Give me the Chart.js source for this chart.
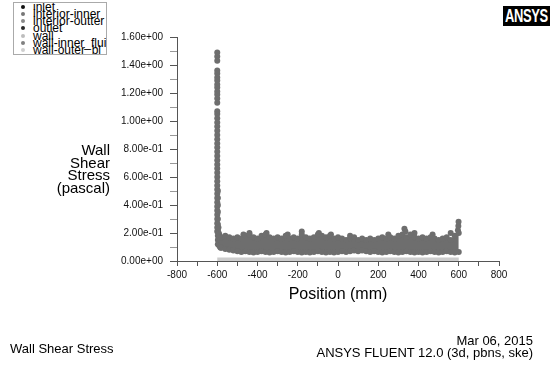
<!DOCTYPE html>
<html>
<head>
<meta charset="utf-8">
<script src="https://cdn.jsdelivr.net/npm/chart.js@4/dist/chart.umd.min.js"></script>
<style>
  html, body { margin: 0; padding: 0; background: #fff; }
  #wrap { position: relative; width: 559px; height: 369px; font-family: "Liberation Sans", Arial, sans-serif; color: #000; }
  #chart { position: absolute; left: 0; top: 0; }
  .txt { position: absolute; white-space: nowrap; }
  #legend { position: absolute; left: 13px; top: 2px; width: 94px; height: 53px; box-sizing: border-box; border: 1px solid #aaa; overflow: hidden; background: #fff; }
  #legend .row { position: absolute; left: 19px; font-size: 12px; line-height: 10px; white-space: nowrap; color: #000; }
  #legend .dot { position: absolute; left: 7px; width: 4px; height: 4px; border-radius: 50%; }
  #logo { position: absolute; left: 503px; top: 6px; width: 47px; height: 20px; background: #000; overflow: hidden; }
  #logo span { position: absolute; left: 2px; top: 0; color: #fff; font-weight: bold; font-size: 18px; line-height: 20px; letter-spacing: -0.5px; transform: scaleX(0.72); transform-origin: 0 0; }
</style>
</head>
<body>
<div id="wrap">
  <canvas id="chart" width="559" height="369"></canvas>
  <div id="legend"></div>
  <div id="logo"><span>ANSYS</span></div>
  <div class="txt" style="left:30px; top:144px; width:80px; text-align:right; font-size:15px; line-height:12.5px;">Wall<br>Shear<br>Stress<br>(pascal)</div>
  <div class="txt" style="left:238px; top:285px; width:200px; text-align:center; font-size:16px; line-height:18px;">Position (mm)</div>
  <div class="txt" style="left:10px; top:342px; font-size:13px; line-height:13px;">Wall Shear Stress</div>
  <div class="txt" style="right:26px; top:335px; text-align:right; font-size:13px; line-height:12px;">Mar 06, 2015<br>ANSYS FLUENT 12.0 (3d, pbns, ske)</div>
</div>
<script>
// legend entries as shown in the Fluent plot
const zoneNames = ['inlet', 'interior-inner', 'interior-outter', 'outlet', 'wall', 'wall-inner_flui', 'wall-outer_bl'];
const zoneColors = ['#111111', '#777777', '#8a8a8a', '#2a2a2a', '#bdbdbd', '#808080', '#cfcfcf'];

// x axis (mm) and y axis (Pa) ranges
const xMin = -800, xMax = 800, xStep = 100;
const yMin = 0, yMax = 1.6, yStep = 0.1;

// wall-outer zone: flat line at zero
const wallX = [-600, 600];
const wallY = [0.01, 0.01];

// wall-inner zone: spike at the inlet end
const spikeX = [-600, -600, -600, -600, -600, -600, -600, -600, -600, -600, -600, -600, -600,
  -600, -600, -600, -600, -600, -600, -600, -600, -600, -600, -600, -600, -600, -600, -600,
  -600, -600, -600, -600, -600, -600, -600, -600, -600, -600, -600, -600, -600, -600, -600,
  -597, -597, -597, -597, -597, -597, -597, -597, -597, -597,
  -594, -593, -592, -591, -590, -588, -586, -585, -583];
const spikeY = [1.49, 1.46, 1.43, 1.36, 1.34, 1.31, 1.29, 1.26, 1.24, 1.21, 1.19, 1.16, 1.13,
  1.07, 1.05, 1.02, 0.99, 0.96, 0.93, 0.90, 0.87, 0.84, 0.81, 0.78, 0.75, 0.72, 0.69, 0.66,
  0.63, 0.60, 0.57, 0.54, 0.51, 0.48, 0.45, 0.42, 0.39, 0.36, 0.33, 0.30, 0.27, 0.24, 0.21,
  0.50, 0.45, 0.40, 0.35, 0.30, 0.26, 0.22, 0.18, 0.15, 0.12,
  0.24, 0.20, 0.16, 0.13, 0.11, 0.17, 0.10, 0.15, 0.095];

// wall-inner zone: the dense band along the rest of the wall (upper and lower edge)
const bandX = [-590, -580, -560, -540, -520, -500, -480, -460, -440, -420, -400, -380, -360, -340,
  -320, -300, -280, -260, -240, -220, -200, -180, -160, -140, -120, -100, -80, -60, -40, -20,
  0, 20, 40, 60, 80, 100, 120, 140, 160, 180, 200, 220, 240, 260, 280, 300, 320, 340, 360,
  380, 400, 420, 440, 460, 480, 500, 520, 540, 560, 580, 600];
const bandTop = [0.19, 0.17, 0.18, 0.17, 0.16, 0.17, 0.16, 0.18, 0.19, 0.17, 0.16, 0.18, 0.19, 0.17,
  0.16, 0.17, 0.16, 0.18, 0.16, 0.17, 0.16, 0.19, 0.17, 0.16, 0.17, 0.19, 0.18, 0.17, 0.18, 0.16,
  0.17, 0.16, 0.15, 0.16, 0.17, 0.15, 0.16, 0.15, 0.16, 0.15, 0.16, 0.17, 0.16, 0.17, 0.16, 0.18,
  0.19, 0.17, 0.19, 0.17, 0.16, 0.17, 0.16, 0.17, 0.16, 0.15, 0.16, 0.17, 0.15, 0.18, 0.20];
const bandBottom = [0.11, 0.095, 0.085, 0.08, 0.075, 0.07, 0.065, 0.07, 0.065, 0.06, 0.065, 0.07, 0.065, 0.06,
  0.065, 0.07, 0.065, 0.06, 0.065, 0.07, 0.065, 0.06, 0.065, 0.06, 0.065, 0.07, 0.065, 0.06, 0.065, 0.06,
  0.065, 0.07, 0.065, 0.07, 0.075, 0.07, 0.075, 0.07, 0.065, 0.07, 0.065, 0.06, 0.065, 0.07, 0.065, 0.06,
  0.065, 0.07, 0.065, 0.06, 0.065, 0.06, 0.065, 0.07, 0.065, 0.06, 0.065, 0.07, 0.065, 0.06, 0.065];

// isolated points sticking out above the band
const bumpX = [-470, -440, -355, -250, -180, -95, -35, 60, 250, 330, 335, 380, 470, 560, 596, 598, 599];
const bumpY = [0.19, 0.20, 0.20, 0.19, 0.21, 0.20, 0.19, 0.18, 0.19, 0.23, 0.21, 0.20, 0.19, 0.20, 0.22, 0.25, 0.28];

const pts = (xs, ys) => xs.map((x, i) => ({ x, y: ys[i] }));

// html legend
const legend = document.getElementById('legend');
zoneNames.forEach((name, i) => {
  const top = -1.5 + i * 7.3;
  const row = document.createElement('div');
  row.className = 'row';
  row.style.top = top + 'px';
  row.textContent = name;
  legend.appendChild(row);
  const dot = document.createElement('div');
  dot.className = 'dot';
  dot.style.top = (top + 3) + 'px';
  dot.style.background = zoneColors[i];
  legend.appendChild(dot);
});

function sci(v) {
  if (Math.abs(v) < 1e-9) return '0.00e+00';
  const e = Math.floor(Math.log10(Math.abs(v)) + 1e-9);
  const m = v / Math.pow(10, e);
  return m.toFixed(2) + 'e' + (e < 0 ? '-' : '+') + String(Math.abs(e)).padStart(2, '0');
}

const bandGray = '#6e6e6e';
const tickFont = { family: '"Liberation Sans", Arial, sans-serif', size: 10 };

new Chart(document.getElementById('chart'), {
  type: 'scatter',
  data: {
    datasets: [
      {
        label: 'wall-outer_bl',
        data: pts(wallX, wallY),
        showLine: true,
        borderColor: '#cccccc',
        borderWidth: 4,
        pointRadius: 0
      },
      {
        label: 'band-bottom',
        data: pts(bandX, bandBottom),
        showLine: true,
        borderColor: bandGray,
        borderWidth: 1,
        backgroundColor: bandGray,
        pointRadius: 3,
        pointBorderWidth: 0,
        fill: false
      },
      {
        label: 'band-top',
        data: pts(bandX, bandTop),
        showLine: true,
        borderColor: bandGray,
        borderWidth: 1,
        backgroundColor: bandGray,
        pointRadius: 3,
        pointBorderWidth: 0,
        fill: '-1'
      },
      {
        label: 'bumps',
        data: pts(bumpX, bumpY),
        backgroundColor: bandGray,
        pointRadius: 3,
        pointBorderWidth: 0
      },
      {
        label: 'spike',
        data: pts(spikeX, spikeY),
        backgroundColor: bandGray,
        pointRadius: 3,
        pointBorderWidth: 0
      }
    ]
  },
  options: {
    responsive: false,
    animation: false,
    events: [],
    layout: { padding: { top: 37, right: 60, bottom: 0, left: 0 } },
    plugins: { legend: { display: false }, tooltip: { enabled: false } },
    scales: {
      x: {
        type: 'linear',
        min: xMin,
        max: xMax,
        afterFit: s => { s.height = 108; },
        ticks: {
          stepSize: xStep,
          autoSkip: false,
          maxRotation: 0,
          padding: 3,
          color: '#111',
          font: tickFont,
          callback: v => (Math.round(v) % 200 === 0 ? String(Math.round(v)) : '')
        },
        grid: { drawOnChartArea: false, tickLength: 5, tickColor: '#555' },
        border: { color: '#555', width: 1 }
      },
      y: {
        type: 'linear',
        min: yMin,
        max: yMax,
        afterFit: s => { s.width = 177; },
        ticks: {
          stepSize: yStep,
          autoSkip: false,
          padding: 7,
          color: '#111',
          font: tickFont,
          callback: v => (Math.round(v * 10) % 2 === 0 ? sci(v) : '')
        },
        grid: {
          drawOnChartArea: false,
          tickLength: 7,
          tickColor: ctx => (Math.round(ctx.tick.value * 10) % 2 === 0 ? '#555' : '#999')
        },
        border: { color: '#555', width: 1 }
      }
    }
  }
});
</script>
</body>
</html>
